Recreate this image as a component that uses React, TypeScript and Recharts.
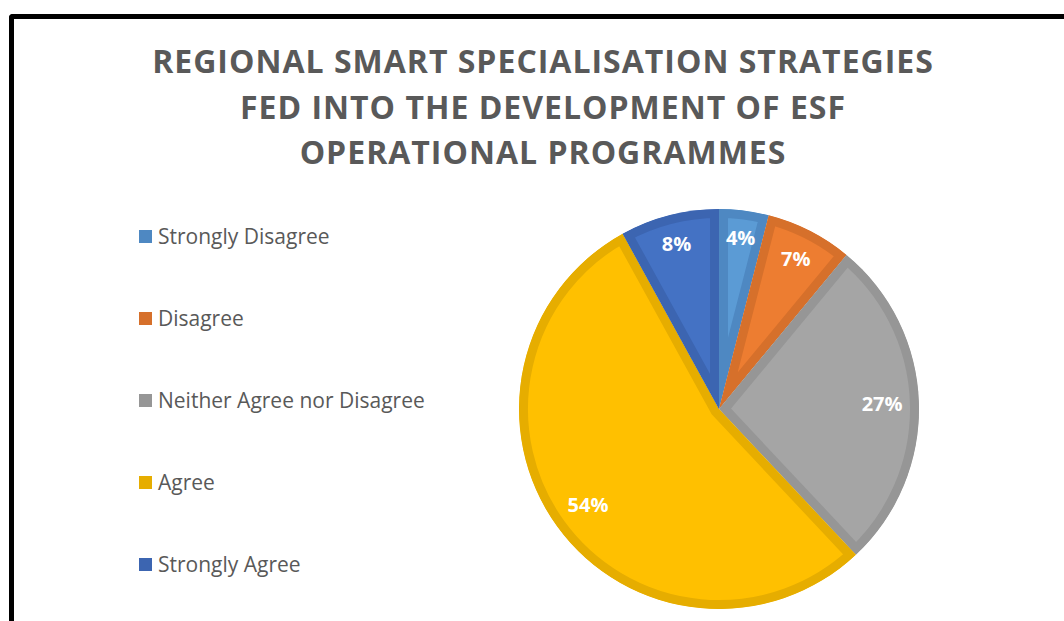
import React from 'react';
import { Cell, Pie, PieChart, Sector } from 'recharts';

const categories = [
	'Strongly Disagree',
	'Disagree',
	'Neither Agree nor Disagree',
	'Agree',
	'Strongly Agree',
];
const shares = [4, 7, 27, 54, 8];
const fills = ['#5B9BD5', '#ED7D31', '#A5A5A5', '#FFC000', '#4472C4'];
const borders = ['#4E88C2', '#D6702B', '#969696', '#E6AD00', '#3C65B1'];
const titleLines = [
	'REGIONAL SMART SPECIALISATION STRATEGIES',
	'FED INTO THE DEVELOPMENT OF ESF',
	'OPERATIONAL PROGRAMMES',
];

const data = categories.map((name, i) => ({ name, value: shares[i] }));

const RADIAN = Math.PI / 180;

// slice with its border drawn inside the slice only (clip to itself)
const InsetSector = (props: any) => {
	const id = `clip-${Math.round(props.startAngle * 100)}`;
	return (
		<g>
			<defs>
				<clipPath id={id}>
					<Sector {...props} stroke='none' />
				</clipPath>
			</defs>
			<Sector
				{...props}
				stroke={props.stroke}
				strokeWidth={18}
				clipPath={`url(#${id})`}
			/>
		</g>
	);
};

const renderLabel = (props: any) => {
	const { cx, cy, midAngle, outerRadius, percent } = props;
	const text = `${Math.round(percent * 100)}%`;
	const w = text.length * 13;
	const h = 18;
	const c = Math.cos(-midAngle * RADIAN);
	const s = Math.sin(-midAngle * RADIAN);
	const r = outerRadius - 17 - (Math.abs(c) * w) / 2 - (Math.abs(s) * h) / 2;
	return (
		<text
			x={cx + r * c}
			y={cy + r * s}
			fill='#ffffff'
			textAnchor='middle'
			dominantBaseline='central'
			fontSize={20}
			fontWeight={700}
			fontFamily='"Open Sans", sans-serif'
		>
			{text}
		</text>
	);
};

export default function App() {
	return (
		<div
			style={{
				position: 'fixed',
				left: 0,
				top: 0,
				width: 1064,
				height: 621,
				overflow: 'hidden',
				background: '#ffffff',
			}}
		>
			<div
				style={{
					position: 'absolute',
					left: 9,
					top: 14,
					width: 1100,
					height: 700,
					borderLeft: '5px solid #000',
					borderTop: '5px solid #000',
					borderTopLeftRadius: 4,
				}}
			/>
			<div
				style={{
					position: 'absolute',
					left: 43,
					top: 38,
					width: 1000,
					textAlign: 'center',
					fontFamily: '"Open Sans", sans-serif',
					fontWeight: 700,
					fontSize: 32,
					letterSpacing: 1,
					lineHeight: '45.5px',
					color: '#595959',
				}}
			>
				{titleLines.map((t) => (
					<div key={t}>{t}</div>
				))}
			</div>
			<div
				style={{
					position: 'absolute',
					left: 139,
					top: 195,
					fontFamily: '"Open Sans", sans-serif',
				}}
			>
				{categories.map((name, i) => (
					<div
						key={name}
						style={{ height: 82, display: 'flex', alignItems: 'center' }}
					>
						<span
							style={{
								width: 13,
								height: 13,
								background: borders[i],
								marginRight: 6,
								display: 'inline-block',
							}}
						/>
						<span style={{ fontSize: 21, color: '#595959' }}>{name}</span>
					</div>
				))}
			</div>
			<div style={{ position: 'absolute', left: 0, top: 0 }}>
				<PieChart width={1064} height={621}>
					<Pie
						data={data}
						dataKey='value'
						nameKey='name'
						cx={714}
						cy={404}
						outerRadius={200}
						startAngle={90}
						endAngle={-270}
						shape={InsetSector}
						label={renderLabel}
						labelLine={false}
						isAnimationActive={false}
					>
						{data.map((d, i) => (
							<Cell key={d.name} fill={fills[i]} stroke={borders[i]} />
						))}
					</Pie>
				</PieChart>
			</div>
		</div>
	);
}
